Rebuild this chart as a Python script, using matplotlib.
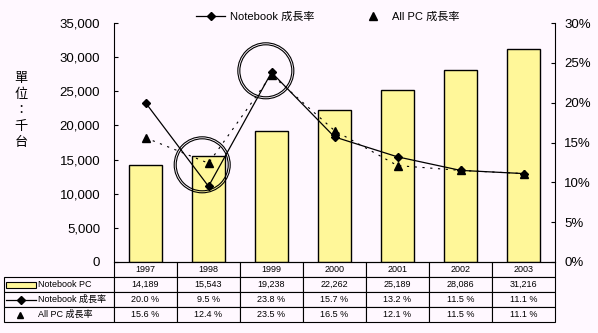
import matplotlib
matplotlib.use('Agg')
import matplotlib.pyplot as plt
from matplotlib.patches import Ellipse, Rectangle
from matplotlib.lines import Line2D

plt.rcParams['font.family'] = ['Liberation Sans', 'Noto Sans CJK TC', 'DejaVu Sans']

years = ['1997', '1998', '1999', '2000', '2001', '2002', '2003']
notebook_pc = [14189, 15543, 19238, 22262, 25189, 28086, 31216]
notebook_growth = [20.0, 9.5, 23.8, 15.7, 13.2, 11.5, 11.1]
allpc_growth = [15.6, 12.4, 23.5, 16.5, 12.1, 11.5, 11.1]
row_labels = ['Notebook PC', 'Notebook 成長率', 'All PC 成長率']

bg = '#FFF8FF'
bar_color = '#FFF799'

fig = plt.figure(figsize=(5.98, 3.33), dpi=100, facecolor=bg)
W, H = 598, 333
L, R, T, B = 114, 555, 23, 262
ax = fig.add_axes([L / W, 1 - B / H, (R - L) / W, (B - T) / H])
ax.set_facecolor(bg)

x = list(range(len(years)))
ax.bar(x, notebook_pc, width=0.51, color=bar_color, edgecolor='black', linewidth=1, zorder=2)
ax.set_xlim(-0.5, 6.5)
ax.set_ylim(0, 35000)
ax.set_yticks(range(0, 35001, 5000))
ax.set_yticklabels([f'{v:,}' for v in range(0, 35001, 5000)])
ax.set_xticks([])
ax.tick_params(axis='y', direction='in', length=3, width=0.8, pad=10, labelsize=9.5)
ax.spines['top'].set_visible(False)
ax.spines['right'].set_visible(False)
for s in ['left', 'bottom']:
    ax.spines[s].set_linewidth(0.8)

ax2 = ax.twinx()
ax2.set_ylim(0, 30)
ax2.set_yticks(range(0, 31, 5))
ax2.set_yticklabels([f'{v}%' for v in range(0, 31, 5)])
ax2.tick_params(axis='y', direction='in', length=3, width=0.8, pad=6.5, labelsize=9.5)
ax2.spines['top'].set_visible(False)
ax2.spines['left'].set_visible(False)
ax2.spines['bottom'].set_visible(False)
ax2.spines['right'].set_linewidth(0.8)

ax2.plot(x, allpc_growth, color='black', linestyle=(0, (2, 5)), linewidth=0.8,
         marker='^', markersize=6, zorder=3)
ax2.plot(x, notebook_growth, color='black', linestyle='-', linewidth=0.9,
         marker='D', markersize=4.5, zorder=4)

# double circles marking 1998 and 1999
for cx, cy in [(1 - 0.1, 12.2), (2 - 0.09, 24.0)]:
    for r in (28, 26):
        ax2.add_patch(Ellipse((cx, cy), 2 * r / 63, 2 * r / 239 * 30, fill=False,
                              edgecolor='black', linewidth=0.8, zorder=5, clip_on=False))

# legend at top
handles = [Line2D([], [], color='black', marker='D', markersize=4.5, linewidth=0.9),
           Line2D([], [], color='black', marker='^', markersize=6, linestyle='none')]
fig.legend(handles, ['Notebook 成長率', 'All PC 成長率'], loc='center',
           bbox_to_anchor=(328 / W, 1 - 17 / H), ncol=2, frameon=False,
           fontsize=8, handlelength=2.6, columnspacing=4, handletextpad=0.4)

# unit label
fig.text(21 / W, 1 - 111 / H, '\n'.join('單位：千台'), ha='center', va='center',
         fontsize=9.5, linespacing=1.3, family=['Noto Sans CJK TC', 'DejaVu Sans'])

# data table
cell_text = [[''] + years,
             [''] + [f'{v:,}' for v in notebook_pc],
             [''] + [f'{v:.1f} %' for v in notebook_growth],
             [''] + [f'{v:.1f} %' for v in allpc_growth]]
tw = R - 4
col_w = [110 / tw] + [63 / tw] * 7
tbl = ax.table(cellText=cell_text, colWidths=col_w, cellLoc='center',
               bbox=[(4 - L) / (R - L), -(322 - B) / (B - T), tw / (R - L), (322 - B) / (B - T)])
tbl.auto_set_font_size(False)
tbl.set_fontsize(6.5)
for (r, c), cell in tbl.get_celld().items():
    cell.set_facecolor(bg)
    cell.set_linewidth(0.8)
    if r == 0 and c == 0:
        cell.visible_edges = ''

def ax_pt(px, py):
    return (px - L) / (R - L), (B - py) / (B - T)

row_y = [284.5, 299.5, 314.5]
for lab, py in zip(row_labels, row_y):
    tx, ty = ax_pt(38, py)
    ax.text(tx, ty, lab, transform=ax.transAxes, fontsize=6.5, va='center', ha='left')

x0, y0 = ax_pt(6, row_y[0] + 3)
x1, y1 = ax_pt(36, row_y[0] - 3)
ax.add_patch(Rectangle((x0, y0), x1 - x0, y1 - y0, transform=ax.transAxes,
                       facecolor=bar_color, edgecolor='black', linewidth=0.8, clip_on=False))
xa, ya = ax_pt(6, row_y[1])
xb, _ = ax_pt(36, row_y[1])
xm, _ = ax_pt(21, row_y[1])
ax.plot([xa, xb], [ya, ya], color='black', linewidth=0.9, transform=ax.transAxes, clip_on=False)
ax.plot([xm], [ya], color='black', marker='D', markersize=4, transform=ax.transAxes, clip_on=False)
xt, yt = ax_pt(20, row_y[2])
ax.plot([xt], [yt], color='black', marker='^', markersize=5, transform=ax.transAxes, clip_on=False)

fig.savefig('out.png', dpi=100, facecolor=bg)
